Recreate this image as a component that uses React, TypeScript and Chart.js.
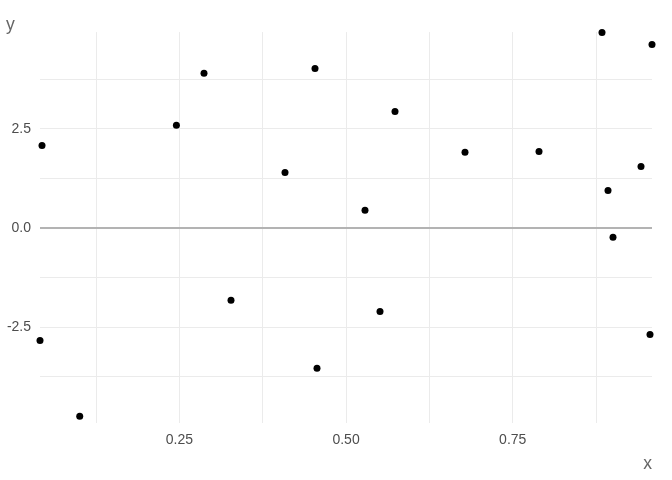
import { useEffect, useRef } from 'react';
import { Chart, registerables } from 'chart.js';

Chart.register(...registerables);

const xValues = [
  0.0439, 0.0409, 0.1005, 0.2455, 0.2869, 0.3274, 0.4084, 0.4534, 0.4564, 0.5284,
  0.5509, 0.5734, 0.6784, 0.7894, 0.8839, 0.8929, 0.9004, 0.9424, 0.9589, 0.9559,
];
const yValues = [
  2.08, -2.83, -4.74, 2.59, 3.9, -1.82, 1.4, 4.02, -3.53, 0.45,
  -2.1, 2.94, 1.91, 1.93, 4.93, 0.95, -0.23, 1.55, 4.63, -2.68,
];
const xMajorTicks = [0.25, 0.5, 0.75];
const xMinorTicks = [0.125, 0.375, 0.625, 0.875];
const yMajorTicks = [-2.5, 0, 2.5];
const yMinorTicks = [-3.75, -1.25, 1.25, 3.75];
const yLimits = [-4.91, 4.94];

const FONT = "'Liberation Sans', Arial, sans-serif";

export default function App() {
  const ref = useRef<HTMLCanvasElement>(null);

  useEffect(() => {
    document.body.style.margin = '0';
    const xMin = Math.min(...xValues);
    const xMax = Math.max(...xValues);
    const has = (list: number[], v: number) => list.some((t) => Math.abs(t - v) < 1e-9);
    const chart = new Chart(ref.current as HTMLCanvasElement, {
      type: 'scatter',
      data: {
        datasets: [
          {
            data: xValues.map((x, i) => ({ x, y: yValues[i] })),
            backgroundColor: '#000000',
            borderColor: '#000000',
            borderWidth: 0,
            pointRadius: 3.5,
            pointHoverRadius: 3.5,
            clip: false as any,
          },
        ],
      },
      options: {
        animation: false,
        responsive: false,
        layout: { padding: { left: 6, right: 20, top: 0, bottom: 0 } },
        plugins: {
          legend: { display: false },
          tooltip: { enabled: false },
          title: {
            display: true,
            text: 'y',
            align: 'start',
            color: '#666666',
            font: { family: FONT, size: 17.6, weight: 'normal', lineHeight: 0.8 },
            padding: { top: 18, bottom: 0 },
          },
        },
        scales: {
          x: {
            type: 'linear',
            min: xMin,
            max: xMax,
            afterBuildTicks: (scale: any) => {
              scale.ticks = [...xMinorTicks, ...xMajorTicks]
                .sort((a, b) => a - b)
                .map((value) => ({ value }));
            },
            afterFit: (scale: any) => {
              scale.height = 57;
            },
            ticks: {
              autoSkip: false,
              maxRotation: 0,
              padding: 9,
              color: '#4d4d4d',
              font: { family: FONT, size: 14, lineHeight: 1.2 },
              callback: (v: any) => (has(xMajorTicks, Number(v)) ? Number(v).toFixed(2) : ''),
            },
            grid: {
              drawTicks: false,
              color: '#ebebeb',
              lineWidth: 1,
            },
            border: { display: false },
            title: {
              display: true,
              text: 'x',
              align: 'end',
              color: '#666666',
              font: { family: FONT, size: 17.6, lineHeight: 1.2 },
              padding: { top: 5, bottom: 5 },
            },
          },
          y: {
            type: 'linear',
            min: yLimits[0],
            max: yLimits[1],
            afterBuildTicks: (scale: any) => {
              scale.ticks = [...yMinorTicks, ...yMajorTicks]
                .sort((a, b) => a - b)
                .map((value) => ({ value }));
            },
            afterFit: (scale: any) => {
              scale.width = 34;
            },
            ticks: {
              autoSkip: false,
              padding: 9,
              color: '#4d4d4d',
              font: { family: FONT, size: 14, lineHeight: 1.2 },
              callback: (v: any) => (has(yMajorTicks, Number(v)) ? Number(v).toFixed(1) : ''),
            },
            grid: {
              drawTicks: false,
              color: (ctx: any) => (ctx.tick && Math.abs(ctx.tick.value) < 1e-9 ? '#b3b3b3' : '#ebebeb'),
              lineWidth: (ctx: any) => (ctx.tick && Math.abs(ctx.tick.value) < 1e-9 ? 2 : 1),
            },
            border: { display: false },
            title: { display: false },
          },
        },
      } as any,
    });
    return () => chart.destroy();
  }, []);

  return (
    <div style={{ width: 672, height: 480, background: '#ffffff' }}>
      <canvas ref={ref} width={672} height={480} style={{ display: 'block' }} />
    </div>
  );
}
